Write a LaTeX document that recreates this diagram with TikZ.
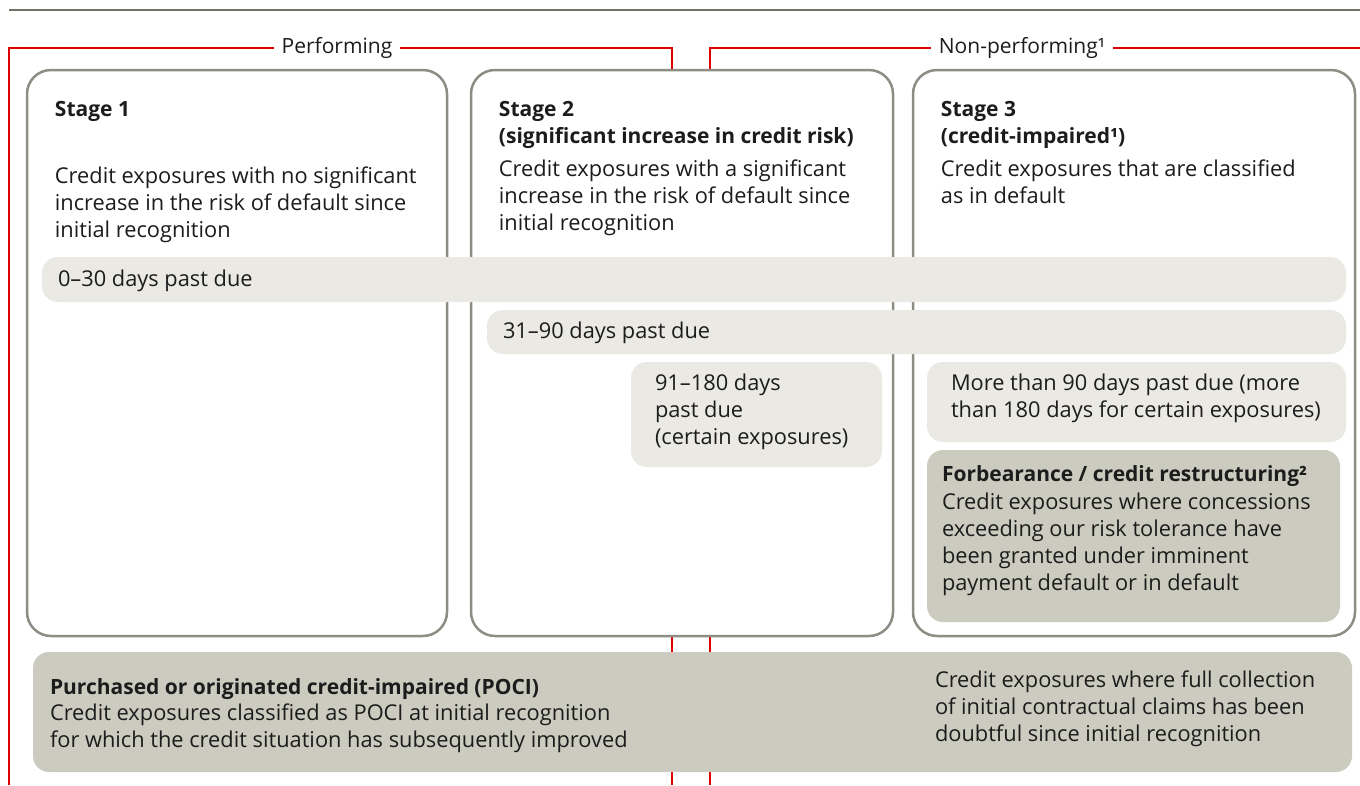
\documentclass[tikz,border=0pt]{standalone}
\usepackage{fontspec}
\setmainfont{Open Sans}
\usepackage{xcolor}
\usetikzlibrary{positioning}

\definecolor{ubsred}{RGB}{222,0,0}
\definecolor{stagegray}{RGB}{142,141,132}
\definecolor{bandlight}{RGB}{234,233,228}
\definecolor{banddark}{RGB}{204,203,191}
\definecolor{textdark}{RGB}{28,28,28}

\begin{document}
\begin{tikzpicture}[x=1pt, y=-1pt,
        stagebox/.style={draw=stagegray, line width=2.5pt, fill=white, rounded corners=24pt, inner sep=0pt},
        band/.style={fill=bandlight, rounded corners=16pt, inner sep=0pt},
        darkband/.style={fill=banddark, rounded corners=16pt, inner sep=0pt},
        txt/.style={inner sep=0pt, align=left, text=textdark, font=\fontsize{21.8}{27}\selectfont},
        head/.style={txt, font=\bfseries\fontsize{21}{27}\selectfont},
        redline/.style={draw=ubsred, line width=1.5pt},
        grouplabel/.style={fill=white, inner xsep=8pt, inner ysep=2pt, text=textdark, font=\fontsize{21}{25}\selectfont}]
        \useasboundingbox (0,0) rectangle (1360,785);

        % Rule and brackets
        \coordinate (ruleL) at (9,10);
        \coordinate (ruleR) at (1360,10);
        \draw[stagegray!80!black, line width=2.5pt] (ruleL) -- (ruleR);

        \coordinate (perfL) at (9,785);
        \coordinate (perfR) at (672,785);
        \coordinate (nperfL) at (710,785);
        \coordinate (nperfR) at (1360,48);
        \draw[redline] (perfL) |- (672,48) -- (perfR);
        \draw[redline] (nperfL) |- (nperfR);
        \node[grouplabel] (perf) at (337,48) {Performing};
        \node[grouplabel] (nperf) at (1022,48) {Non-performing¹};

        % Stage boxes
        \node[stagebox, minimum width=420pt, minimum height=566pt] (s1box) at (237,353) {};
        \node[stagebox, minimum width=422pt, minimum height=566pt] (s2box) at (682,353) {};
        \node[stagebox, minimum width=442pt, minimum height=566pt] (s3box) at (1134,353) {};

        \node[head, below right=32pt and 29pt of s1box.north west] (s1title) {Stage 1};
        \node[txt, below right=98pt and 29pt of s1box.north west] (s1text) {Credit exposures with no significant\\increase in the risk of default since\\initial recognition};
        \node[head, below right=32pt and 29pt of s2box.north west] (s2title) {Stage 2\\(significant increase in credit risk)};
        \node[txt, below right=91pt and 29pt of s2box.north west] (s2text) {Credit exposures with a significant\\increase in the risk of default since\\initial recognition};
        \node[head, below right=32pt and 29pt of s3box.north west] (s3title) {Stage 3\\(credit-impaired¹)};
        \node[txt, below right=91pt and 29pt of s3box.north west] (s3text) {Credit exposures that are classified\\as in default};

        % Days past due
        \node[band, minimum width=1304pt, minimum height=45pt] (dpd30) at (694,279.5) {};
        \node[band, minimum width=859pt, minimum height=44pt] (dpd90) at (916.5,332) {};
        \node[band, minimum width=251pt, minimum height=105pt] (dpd180) at (756.5,414.5) {};
        \node[band, minimum width=419pt, minimum height=80pt] (dpdnp) at (1136.5,402) {};

        \node[txt, below right=13pt and 16pt of dpd30.north west] (dpd30text) {0–30 days past due};
        \node[txt, below right=12pt and 16pt of dpd90.north west] (dpd90text) {31–90 days past due};
        \node[txt, below right=12pt and 24pt of dpd180.north west] (dpd180text) {91–180 days\\past due\\(certain exposures)};
        \node[txt, below right=12pt and 24pt of dpdnp.north west] (dpdnptext) {More than 90 days past due (more\\than 180 days for certain exposures)};

        % Forbearance
        \node[darkband, minimum width=413pt, minimum height=172pt] (forb) at (1133.5,536) {};
        \node[head, below right=16pt and 15pt of forb.north west] (forbtitle) {Forbearance / credit restructuring²};
        \node[txt, below right=43pt and 15pt of forb.north west] (forbtext) {Credit exposures where concessions\\exceeding our risk tolerance have\\been granted under imminent\\payment default or in default};

        % POCI
        \node[darkband, minimum width=1319pt, minimum height=120pt] (poci) at (692.5,712) {};
        \node[head, below right=27pt and 17pt of poci.north west] (pocititle) {Purchased or originated credit-impaired (POCI)};
        \node[txt, below right=52pt and 17pt of poci.north west] (pocitext) {Credit exposures classified as POCI at initial recognition\\for which the credit situation has subsequently improved};
        \node[txt, below right=19pt and 902pt of poci.north west] (pocinp) {Credit exposures where full collection\\of initial contractual claims has been\\doubtful since initial recognition};
    \end{tikzpicture}
\end{document}
